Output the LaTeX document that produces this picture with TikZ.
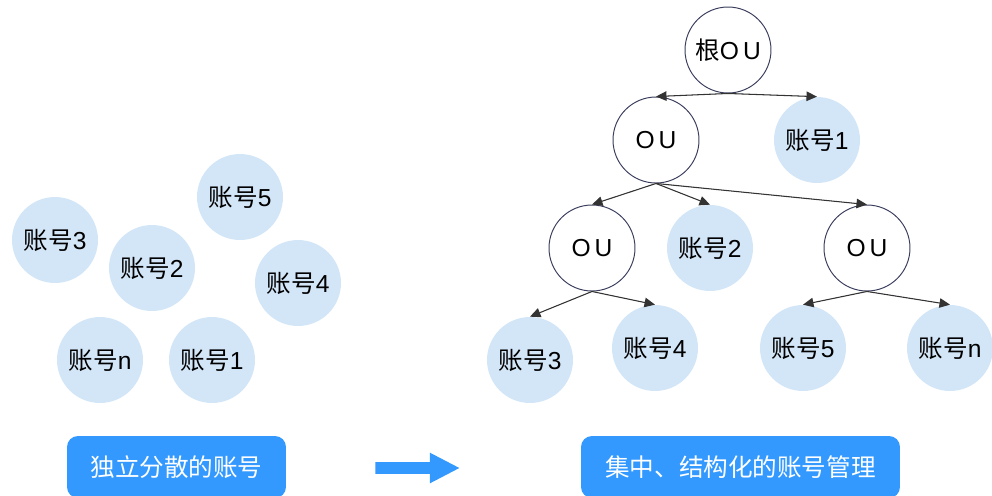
\documentclass[tikz,border=0pt]{standalone}
\usepackage{fontspec}
\setmainfont{Liberation Sans}
\newfontfamily\cjk{Noto Sans CJK SC}
\usetikzlibrary{arrows.meta,shapes.arrows}

\definecolor{acctfill}{HTML}{D3E6F8}
\definecolor{oudraw}{HTML}{3A3D5C}
\definecolor{tagblue}{HTML}{3399FF}
\definecolor{linkgray}{HTML}{333333}

\newcommand{\acct}[1]{{\cjk 账号}#1}

\tikzset{
  acctnode/.style={circle, fill=acctfill, minimum size=1.72cm, inner sep=0pt, font=\fontsize{14}{16}\selectfont},
  ounode/.style={circle, draw=oudraw, fill=white, line width=0.55pt, minimum size=1.72cm, inner sep=0pt, font=\fontsize{14}{16}\selectfont},
  link/.style={-{Triangle[length=0.21cm,width=0.19cm]}, draw=linkgray, fill=linkgray, line width=0.6pt},
  tagbox/.style={rounded corners=0.22cm, fill=tagblue, text=white, inner sep=0pt, font=\cjk\fontsize{14}{16}\selectfont}
}

\begin{document}
\begin{tikzpicture}[x=0.02cm,y=-0.02cm]
    \useasboundingbox (0,0) rectangle (992,495);

    % scattered accounts
    \node[acctnode] (l3) at (55,240) {\acct{3}};
    \node[acctnode] (l5) at (240,197) {\acct{5}};
    \node[acctnode] (l2) at (152,268) {\acct{2}};
    \node[acctnode] (l4) at (298,283) {\acct{4}};
    \node[acctnode] (ln) at (100,360) {\acct{n}};
    \node[acctnode] (l1) at (212,360) {\acct{1}};

    % organisation tree
    \node[ounode] (root) at (728,50) {{\cjk 根}O\,U};
    \node[ounode] (ou) at (656,140) {O\,U};
    \node[acctnode] (t1) at (817,140) {\acct{1}};
    \node[ounode] (oul) at (592,248) {O\,U};
    \node[acctnode] (t2) at (710,248) {\acct{2}};
    \node[ounode] (our) at (867,248) {O\,U};
    \node[acctnode] (t3) at (530,360) {\acct{3}};
    \node[acctnode] (t4) at (655,348) {\acct{4}};
    \node[acctnode] (t5) at (803,348) {\acct{5}};
    \node[acctnode] (tn) at (950,348) {\acct{n}};

    \draw[link] (root.south) -- (ou.north);
    \draw[link] (root.south) -- (t1.north);
    \draw[link] (ou.south) -- (oul.north);
    \draw[link] (ou.south) -- (t2.north);
    \draw[link] (ou.south) -- (our.north);
    \draw[link] (oul.south) -- (t3.north);
    \draw[link] (oul.south) -- (t4.north);
    \draw[link] (our.south) -- (t5.north);
    \draw[link] (our.south) -- (tn.north);

    % captions
    \begin{scope}
      \clip (0,0) rectangle (992,495);
      \node[tagbox, minimum width=4.38cm, minimum height=1.24cm] (capl) at (176.5,467) {独立分散的账号};
      \node[tagbox, minimum width=6.38cm, minimum height=1.24cm] (capr) at (740.5,467) {集中、结构化的账号管理};
    \end{scope}
    \node[single arrow, fill=tagblue, minimum height=1.68cm, minimum width=0.6cm, inner sep=0.11cm,
          single arrow head extend=0.19cm, single arrow tip angle=55, anchor=west] (flow) at (375,468) {};
\end{tikzpicture}
\end{document}
